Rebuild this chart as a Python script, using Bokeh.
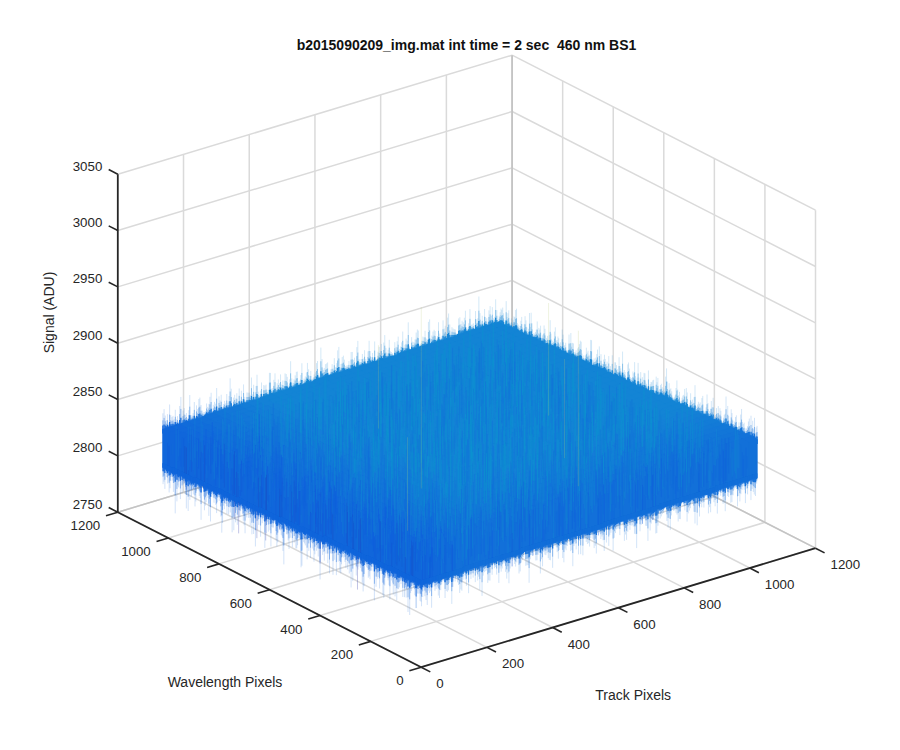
import numpy as np
from bokeh.plotting import figure
from bokeh.models import Range1d
from bokeh.core.properties import value
from bokeh.embed import file_html
from bokeh.resources import INLINE

TITLE = "b2015090209_img.mat int time = 2 sec\u00a0\u00a0460 nm BS1"
TRACK_TICKS = [0, 200, 400, 600, 800, 1000, 1200]
WAVE_TICKS = [0, 200, 400, 600, 800, 1000, 1200]
SIGNAL_TICKS = [2750, 2800, 2850, 2900, 2950, 3000, 3050]
DETECTOR_MAX = 1023

# mean signal: rows = wavelength pixel (0..1023), columns = track pixel (0..1023)
MEAN_SIGNAL = [
 [2838,2838,2839,2839,2840,2840,2840,2841,2841,2842,2842,2843,2843],
 [2837,2837,2838,2838,2839,2839,2839,2840,2840,2841,2841,2842,2842],
 [2836,2836,2837,2837,2837,2838,2838,2839,2839,2839,2840,2840,2841],
 [2835,2835,2836,2836,2836,2837,2837,2838,2838,2838,2839,2839,2840],
 [2834,2834,2835,2835,2835,2836,2836,2836,2837,2837,2838,2838,2839],
 [2832,2833,2833,2834,2834,2835,2835,2835,2836,2836,2837,2837,2837],
 [2831,2832,2832,2833,2833,2834,2834,2834,2835,2835,2836,2836,2836],
 [2830,2831,2831,2832,2832,2833,2833,2833,2834,2834,2835,2835,2835],
 [2829,2830,2830,2831,2831,2831,2832,2832,2833,2833,2834,2834,2834],
 [2828,2829,2829,2829,2830,2830,2831,2831,2832,2832,2832,2833,2833],
 [2827,2828,2828,2828,2829,2829,2830,2830,2830,2831,2831,2832,2832],
 [2826,2826,2827,2827,2828,2828,2829,2829,2829,2830,2830,2831,2831],
 [2825,2825,2826,2826,2827,2827,2828,2828,2828,2829,2829,2830,2830],
]

# sampled pixel deviations from the local mean (ADU)
PIXEL_DEV = [
 [-14,9,-22,17,-6,25,-11,3,-27,12,19,-8,-17,6,23,-3,-20,14,8,-25,11,-5,18,-13,2,21,-9,-16,26,-7],
 [7,-19,13,-2,21,-15,8,-24,16,-10,4,27,-12,-21,9,18,-6,-26,13,1,-17,24,-8,10,-23,5,15,-12,-4,20],
 [-25,16,2,-13,10,-7,24,-18,5,22,-14,-3,19,11,-27,6,17,-9,-1,23,-15,8,-20,26,-11,-6,12,3,-22,9],
 [18,-4,-16,26,-21,12,-1,9,-10,-23,15,7,-6,24,-13,-19,3,20,-14,-8,16,-26,5,-2,13,-17,22,-10,8,-18],
 [-9,23,11,-17,4,-27,14,19,-5,1,-20,12,25,-16,8,-2,-23,10,21,-12,6,-4,17,-24,15,9,-13,27,-1,-6],
 [13,-11,-26,5,16,8,-18,-3,22,-15,10,-24,2,17,-7,26,12,-14,-21,4,19,-9,-1,11,-16,23,3,-25,14,-12],
 [-2,20,-8,-22,27,-13,6,15,-19,9,-4,18,-11,-25,13,5,-16,24,1,-10,-18,22,7,-6,-14,16,-27,8,19,2],
 [24,-16,6,12,-9,3,-21,26,-12,-1,17,-6,10,-18,21,-24,7,-3,15,-13,9,2,-22,18,4,-8,11,-19,-5,25],
 [-20,5,17,-7,14,-24,10,-15,19,8,-26,23,-3,4,-11,16,-19,12,-6,27,-2,-14,20,-9,6,-23,1,13,-17,10],
 [3,-12,25,-18,-1,11,-6,21,-23,15,7,-10,-16,26,2,-8,14,-21,18,-5,12,-25,9,16,-3,-11,24,-7,-15,6],
 [16,-27,-4,9,22,-17,13,1,7,-20,-12,19,5,-9,-22,24,-1,8,-15,11,-26,17,-6,3,21,-13,-18,10,23,-8],
 [-6,14,-19,24,-11,-2,18,-25,12,4,-8,26,-21,10,15,-13,6,-17,22,-3,-9,1,13,-20,8,19,-24,-5,11,-16],
 [9,-1,21,-14,6,-23,-7,16,-3,27,-18,2,13,-26,-5,20,-11,3,-9,17,25,-16,-12,7,-22,14,10,-2,-19,23],
 [-17,26,-10,1,18,7,-24,11,-15,-6,20,-12,23,-4,9,-19,16,26,-22,-7,5,13,-3,-18,24,-10,2,21,-14,4],
 [22,-8,4,-20,-13,15,3,-9,25,-17,1,14,-27,7,18,-6,-14,11,2,-24,19,-11,8,23,-16,-1,-21,6,15,-12],
 [-10,12,-23,19,8,-5,-16,27,-7,-2,-14,21,6,-19,11,-25,23,-8,13,3,-18,10,-4,-22,16,5,-13,25,-20,1],
 [5,-21,15,-3,-26,20,9,-12,4,18,-23,-6,16,-1,-15,8,24,-20,-10,14,2,-27,21,-7,12,-17,19,-9,7,-24],
 [-15,7,-1,23,11,-18,-9,14,-21,10,26,-16,-2,22,-12,3,-7,17,-25,6,-13,20,4,-10,27,-5,-19,12,-23,16],
 [19,-3,-24,8,-14,2,25,-6,17,-27,-11,5,12,-20,26,-16,10,-1,-12,23,7,-8,-19,15,-2,9,-26,18,3,-13],
 [-23,11,16,-12,5,-19,-4,22,-8,13,3,-15,-24,18,1,-10,21,-6,9,-17,27,-3,14,-21,-7,12,6,-16,24,-5],
 [1,-25,8,20,-17,12,-13,6,27,-22,-9,16,4,-11,-18,25,-3,15,-27,10,-5,19,-14,2,-9,22,-12,-20,8,17],
 [12,18,-15,-6,24,-10,1,-20,9,-4,14,-26,20,-7,6,13,-23,4,-16,-2,11,-12,25,-17,18,-24,7,3,-8,-19],
 [-18,-7,22,3,-12,17,-25,10,-14,6,23,-1,-9,15,-21,-4,19,-13,7,26,-19,5,-10,12,-27,1,14,-6,20,-11],
 [8,15,-9,-23,13,-3,19,-16,2,-12,-5,24,-17,11,25,-14,-8,22,-20,9,-1,-24,16,6,-15,20,-4,-22,10,27],
 [-13,2,27,-11,-20,6,14,-1,-24,18,9,-18,7,-26,3,12,-5,-15,24,-9,13,17,-23,-3,8,-19,26,11,-10,-2],
 [21,-14,-5,16,2,-22,11,7,-17,-9,25,4,-13,19,-6,-21,15,1,-11,20,-24,-7,10,14,-18,6,-1,-26,17,9],
 [-4,10,-20,-8,26,13,-15,-23,21,3,-16,12,-2,-10,17,7,-27,18,5,-14,22,-6,-12,24,1,-21,16,9,-25,13],
 [15,-24,3,11,-7,-16,20,5,-13,24,-1,-19,9,14,-23,2,-10,25,-17,-4,8,-20,27,-11,-6,17,-15,4,12,-22],
 [-11,19,-13,6,-18,23,-2,-27,10,-7,16,8,-21,-5,20,-15,12,-3,-24,19,1,15,-9,-16,22,-12,5,-18,-3,26],
 [6,-17,24,-21,9,-8,17,13,-4,-26,11,-13,26,3,-9,18,-22,7,14,-11,-16,24,2,-5,10,-25,20,-7,16,-14],
]

# peak deviation from the local mean along the four edges of the detector (ADU)
BACK_LEFT_PEAK = [29,22,35,24,20,31,26,23,38,21,27,33,19,25,30,22,36,24,20,28,41,23,26,19,32,24,21,29,37,22,25,20,34,27,23,30,19,26,39,22,28,24,20,33,25,21,31,42,23,27,20,29,35,22,25,19,30,24,38,21,28,26,20,33,23,29,36,22,19,27,31,24,21,40,26,23,30,20,28,35,22,25,32,19,27,37,24,21,29,26,34,22,20,31,43,25,23,28,30,36]
BACK_RIGHT_PEAK = [27,33,22,30,20,25,36,23,28,19,31,24,40,21,26,29,20,34,23,27,19,32,25,22,38,24,20,28,30,21,26,35,19,23,29,41,22,25,20,31,27,24,33,21,19,28,36,23,26,20,30,22,39,25,21,27,32,19,24,29,20,34,26,22,37,23,28,20,31,25,21,27,35,19,24,30,22,26,33,20,38,23,28,21,25,31,19,27,36,22,24,29,20,34,26,23,30,37,25,28]
FRONT_LEFT_LOW = [30,24,38,21,27,44,23,33,20,28,36,25,41,22,30,19,35,26,48,23,29,21,39,27,24,33,20,46,25,31,22,37,28,19,42,24,34,21,27,50,23,30,26,20,38,25,45,22,32,28,21,36,24,52,27,20,33,23,41,29,25,19,37,22,47,26,31,21,40,24,28,35,20,44,23,30,27,49,22,34,25,21,39,28,24,46,20,32,26,23,43,29,21,36,25,51,22,30,27,33]
FRONT_RIGHT_LOW = [34,26,22,38,24,29,20,33,27,40,21,25,31,23,36,19,28,24,42,21,30,26,20,35,23,27,38,19,25,32,22,28,44,21,26,20,33,24,29,37,19,23,31,25,21,41,27,20,34,23,28,22,36,19,26,30,24,39,21,27,20,33,25,23,43,29,19,26,31,22,35,24,20,28,37,21,25,30,19,34,23,27,40,22,26,20,32,24,36,21,28,23,30,19,35,25,22,27,33,29]

# isolated hot pixels and cold pixels
HOT_TRACK = [315, 827, 603, 126, 470, 690]
HOT_WAVE = [409, 571, 162, 218, 780, 330]
HOT_PEAK = [2995, 2935, 2977, 2918, 2905, 2925]
COLD_WAVE = [738, 252, 722, 650, 615, 400]
COLD_LOW = [2797, 2790, 2786, 2790, 2792, 2796]

X0, XT, XW = 420.7, 394.3 / 1200, -303.4 / 1200
Y0, YT, YW, YZ = 666.7, 119 / 1200, 155 / 1200, 338 / 300


def px(t, w, z=2750):
    return X0 + np.asarray(t, float) * XT + np.asarray(w, float) * XW


def py(t, w, z=2750):
    return Y0 - np.asarray(t, float) * YT - np.asarray(w, float) * YW - (np.asarray(z, float) - 2750) * YZ


STOPS = ["#352a87", "#0f5cdd", "#1481d6", "#06a4ca", "#2eb7a4", "#87bf77", "#d1bb59", "#fec832", "#f9fb0e"]
RGB = np.array([[int(s[i:i + 2], 16) for i in (1, 3, 5)] for s in STOPS], float)


def parula(f):
    f = float(np.clip(f, 0, 1))
    pos = np.linspace(0, 1, len(STOPS))
    return "#%02x%02x%02x" % tuple(int(round(np.interp(f, pos, RGB[:, c]))) for c in range(3))


def shade(t, w):
    return min(0.155 + 0.105 * min(1.0, t / 330.0), 0.19 + 0.07 * min(1.0, w / 280.0))


mean = np.array(MEAN_SIGNAL, float)


def local_mean(t, w):
    return mean[int(round(w / DETECTOR_MAX * 12)), int(round(t / DETECTOR_MAX * 12))]


p = figure(width=884, height=734, output_backend="svg", toolbar_location=None,
           x_range=Range1d(0, 884), y_range=Range1d(734, 0), min_border=0)
p.axis.visible = False
p.grid.visible = False
p.outline_line_color = None
p.background_fill_color = "white"
p.border_fill_color = "white"

GRID = "#dadada"
xs, ys = [], []
for t in TRACK_TICKS:
    xs.append([float(px(t, 0)), float(px(t, 1200))])
    ys.append([float(py(t, 0)), float(py(t, 1200))])
    if t > 0:
        xs.append([float(px(t, 1200))] * 2)
        ys.append([float(py(t, 1200, 2750)), float(py(t, 1200, 3050))])
for w in WAVE_TICKS:
    xs.append([float(px(0, w)), float(px(1200, w))])
    ys.append([float(py(0, w)), float(py(1200, w))])
    xs.append([float(px(1200, w))] * 2)
    ys.append([float(py(1200, w, 2750)), float(py(1200, w, 3050))])
for z in SIGNAL_TICKS[1:]:
    xs.append([float(px(0, 1200)), float(px(1200, 1200))])
    ys.append([float(py(0, 1200, z)), float(py(1200, 1200, z))])
    xs.append([float(px(1200, 1200)), float(px(1200, 0))])
    ys.append([float(py(1200, 1200, z)), float(py(1200, 0, z))])
p.multi_line(xs, ys, line_color=GRID, line_width=1.5)
p.line([float(px(1200, 1200))] * 2, [float(py(1200, 1200, 2750)), float(py(1200, 1200, 3050))],
       line_color="#c0c0c0", line_width=1.5)
p.multi_line([[float(px(0, 1200)), float(px(1200, 1200)), float(px(1200, 0))]],
             [[float(py(0, 1200)), float(py(1200, 1200)), float(py(1200, 0))]],
             line_color="#c4c4c4", line_width=1.5)

BODY_TOP = 19
BODY_LOW = 15


def draw_fringe(t_arr, w_arr, peaks, sign):
    body = BODY_TOP if sign > 0 else BODY_LOW
    x, base, tip, mid, inner, col = [], [], [], [], [], []
    for t, w, d in zip(t_arr, w_arr, peaks):
        m = local_mean(t, w)
        d = max(d + (body - BODY_LOW), body + 1)
        x.append(float(px(t, w)))
        base.append(float(py(t, w, m + sign * (body - 4))))
        tip.append(float(py(t, w, m + sign * d)))
        mid.append(float(py(t, w, m + sign * (body + (d - body) * 0.55))))
        inner.append(float(py(t, w, m + sign * (body + (d - body) * 0.22))))
        col.append(parula(shade(t, w)))
    p.segment(x, base, x, tip, line_color=col, line_alpha=0.24, line_width=0.8)
    p.segment(x, base, x, mid, line_color=col, line_alpha=0.4, line_width=1)
    p.segment(x, base, x, inner, line_color=col, line_alpha=0.95, line_width=1.3)


def passes(peaks):
    """The three passes thread the same readings along the edge at different offsets."""
    arr = np.array(peaks, float)
    n = len(arr)
    step = DETECTOR_MAX / n
    pos = np.concatenate([(np.arange(n) + 0.1) * step, (np.arange(n) + 0.45) * step, (np.arange(n) + 0.8) * step])
    val = np.concatenate([arr, arr[::-1] * 0.9, np.roll(arr, 37) * 0.8])
    return pos, val


pos, val = passes(BACK_LEFT_PEAK)
draw_fringe(pos, np.full_like(pos, DETECTOR_MAX), val, 1)
pos, val = passes(BACK_RIGHT_PEAK)
draw_fringe(np.full_like(pos, DETECTOR_MAX), pos, val, 1)

cx, cy, cc = [], [], []
N = 40
step = DETECTOR_MAX / N
for j in range(N - 1, -1, -1):
    for i in range(N - 1, -1, -1):
        t0, t1, w0, w1 = i * step, (i + 1) * step, j * step, (j + 1) * step
        m = local_mean((t0 + t1) / 2, (w0 + w1) / 2)
        hi, lo = m + BODY_TOP, m - BODY_LOW
        pts = [(t0, w1, hi), (t1, w1, hi), (t1, w0, hi), (t1, w0, lo), (t0, w0, lo), (t0, w1, lo)]
        cx.append([float(px(a, b)) for a, b, _ in pts])
        cy.append([float(py(a, b, c)) for a, b, c in pts])
        cc.append(parula(shade((t0 + t1) / 2, (w0 + w1) / 2)))
p.patches(cx, cy, fill_color=cc, line_color=cc, line_width=0.6)

sx, sy0, sy1, sc = [], [], [], []
table = np.array(PIXEL_DEV, float)
n = len(table)
LATTICE = [(0.5, 0.5, table), (0.0, 0.25, table[::-1]), (0.25, 0.75, table[:, ::-1]), (0.75, 0.0, table.T)]
for oi, oj, tab in LATTICE:
    for j in range(n):
        for i in range(n):
            d = tab[j, i]
            t = (i + oi) * DETECTOR_MAX / n
            w = (j + oj) * DETECTOR_MAX / n
            m = local_mean(t, w)
            sx.append(float(px(t, w)))
            sy0.append(float(py(t, w, m - d * 0.5)))
            sy1.append(float(py(t, w, m + d)))
            sc.append(parula(shade(t, w) + d * 0.003))
p.segment(sx, sy0, sx, sy1, line_color=sc, line_alpha=0.5, line_width=0.9)

pos, val = passes(FRONT_LEFT_LOW)
draw_fringe(np.zeros_like(pos), pos, val, -1)
pos, val = passes(FRONT_RIGHT_LOW)
draw_fringe(pos, np.zeros_like(pos), val, -1)

hx = [float(px(t, w)) for t, w in zip(HOT_TRACK, HOT_WAVE)]
hy0 = [float(py(t, w, local_mean(t, w))) for t, w in zip(HOT_TRACK, HOT_WAVE)]
hy1 = [float(py(t, w, z)) for t, w, z in zip(HOT_TRACK, HOT_WAVE, HOT_PEAK)]
p.segment(hx, hy0, hx, hy1, line_color="#b8c878", line_alpha=0.32, line_width=0.7)

kx = [float(px(0, w)) for w in COLD_WAVE]
ky0 = [float(py(0, w, local_mean(0, w) - BODY_LOW)) for w in COLD_WAVE]
ky1 = [float(py(0, w, z)) for w, z in zip(COLD_WAVE, COLD_LOW)]
p.segment(kx, ky0, kx, ky1, line_color="#4048b0", line_alpha=0.4, line_width=0.8)

INK = "#262626"
p.line([float(px(0, 0)), float(px(1200, 0))], [float(py(0, 0)), float(py(1200, 0))], line_color=INK, line_width=1.8)
p.line([float(px(0, 0)), float(px(0, 1200))], [float(py(0, 0)), float(py(0, 1200))], line_color=INK, line_width=1.8)
p.line([float(px(0, 1200))] * 2, [float(py(0, 1200, 2750)), float(py(0, 1200, 3050))], line_color=INK, line_width=1.8)

TL = 36
tt = np.array(TRACK_TICKS, float)
p.segment(px(tt, 0), py(tt, 0), px(tt, -TL), py(tt, -TL), line_color=INK, line_width=1.6)
wt = np.array(WAVE_TICKS, float)
p.segment(px(0, wt), py(0, wt), px(-TL, wt), py(-TL, wt), line_color=INK, line_width=1.6)
st = np.array(SIGNAL_TICKS, float)
p.segment(px(0, 1200) + 0 * st, py(0, 1200, st), px(0, 1200 + TL) + 0 * st, py(0, 1200 + TL, st), line_color=INK, line_width=1.6)

FONT = value("Liberation Sans")
LBL = dict(text_font=FONT, text_font_size="13.3px", text_color=INK)
NAME = dict(text_font=FONT, text_font_size="14px", text_color=INK)
p.text(px(tt, 0) + 15, py(tt, 0) + 16.5, text=[str(int(v)) for v in TRACK_TICKS],
       text_align="left", text_baseline="middle", **LBL)
p.text(px(0, wt) - 17.6, py(0, wt) + 13.5, text=[str(int(v)) for v in WAVE_TICKS],
       text_align="right", text_baseline="middle", **LBL)
p.text(px(0, 1200) - 15.5 + 0 * st, py(0, 1200, st) - 8, text=[str(int(v)) for v in SIGNAL_TICKS],
       text_align="right", text_baseline="middle", **LBL)
p.text([224.5], [681], text=["Wavelength Pixels"], text_align="center", text_baseline="middle", **NAME)
p.text([632.7], [694], text=["Track Pixels"], text_align="center", text_baseline="middle", **NAME)
p.text([48], [312], text=["Signal (ADU)"], angle=np.pi / 2, text_align="center", text_baseline="middle", **NAME)
p.text([466], [44], text=[TITLE], text_align="center", text_baseline="middle",
       text_font=FONT, text_font_size="14px", text_font_style="bold", text_color="#111111")

open("out.html", "w").write(file_html(p, INLINE))
